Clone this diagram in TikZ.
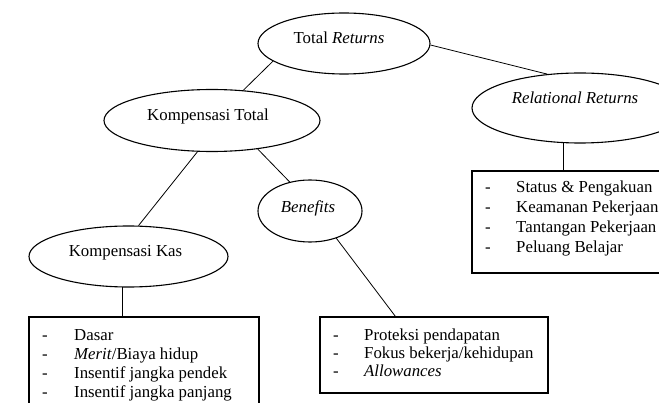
\documentclass[tikz,border=0pt]{standalone}
\usepackage{fontspec}
\setmainfont{Liberation Serif}
\usetikzlibrary{shapes.geometric}
\newcommand{\dsh}{\makebox[31pt][l]{-}}
\begin{document}
\begin{tikzpicture}[x=1pt,y=-1pt,
  oval/.style={draw, ellipse, line width=1.1pt, inner sep=0pt},
  listbox/.style={draw, rectangle, line width=1.1pt, inner sep=0pt},
  conn/.style={line width=0.8pt},
  lbl/.style={anchor=base, inner sep=0pt, font=\fontsize{16.8}{19}\selectfont},
  lst/.style={anchor=base west, inner sep=0pt}]
\useasboundingbox (0,0) rectangle (659,403);
\clip (0,0) rectangle (659,403);
\fill[white] (0,0) rectangle (659,403);
% ellipses
\node[oval, minimum width=172pt, minimum height=61pt] (tr) at (344,43.5) {};
\node[oval, minimum width=216pt, minimum height=62pt] (kt) at (212,120.5) {};
\node[oval, minimum width=199pt, minimum height=61pt] (kk) at (128.5,256.5) {};
\node[oval, minimum width=104pt, minimum height=62pt] (bf) at (310,211) {};
\node[oval, minimum width=216pt, minimum height=70pt] (rr) at (580,108) {};
% labels
\node[lbl] (trt) at (339,44) {Total \textit{Returns}};
\node[lbl] (ktt) at (208,121) {Kompensasi Total};
\node[lbl] (kkt) at (125.5,257) {Kompensasi Kas};
\node[lbl] (bft) at (308,213) {\textit{Benefits}};
\node[lbl] (rrt) at (575,104) {\textit{Relational Returns}};
% boxes
\node[listbox, minimum width=230pt, minimum height=98pt] (kb) at (144,366) {};
\node[listbox, minimum width=228pt, minimum height=76pt] (bb) at (434,355) {};
\node[listbox, minimum width=200pt, minimum height=102pt] (rb) at (572,222) {};
% lists
\node[lst] (kbl) at (42,341) {\fontsize{16.8}{18.8}\selectfont
  \begin{tabular}[t]{@{}l@{}l@{}}
  \makebox[32pt][l]{-} & Dasar\\
  \makebox[32pt][l]{-} & \textit{Merit}/Biaya hidup\\
  \makebox[32pt][l]{-} & Insentif jangka pendek\\
  \makebox[32pt][l]{-} & Insentif jangka panjang
  \end{tabular}};
\node[lst] (bbl) at (333,341) {\fontsize{16.8}{18}\selectfont
  \begin{tabular}[t]{@{}l@{}l@{}}
  \dsh & Proteksi pendapatan\\
  \dsh & Fokus bekerja/kehidupan\\
  \dsh & \textit{Allowances}
  \end{tabular}};
\node[lst] (rbl) at (485,193) {\fontsize{16.8}{20}\selectfont
  \begin{tabular}[t]{@{}l@{}l@{}}
  \dsh & Status \& Pengakuan\\
  \dsh & Keamanan Pekerjaan\\
  \dsh & Tantangan Pekerjaan\\
  \dsh & Peluang Belajar
  \end{tabular}};
% connectors
\draw[conn] (tr.194) -- (kt.44);
\draw[conn] (tr.-1) -- (rr.134);
\draw[conn] (kt.245) -- (kk.72);
\draw[conn] (kt.-32) -- (bf.125);
\draw[conn] (bf.-46) -- (bb.135);
\draw[conn] (kk.258) -- (kk.258 |- kb.north);
\draw[conn] (rr.245) -- (rr.245 |- rb.north);
\end{tikzpicture}
\end{document}
